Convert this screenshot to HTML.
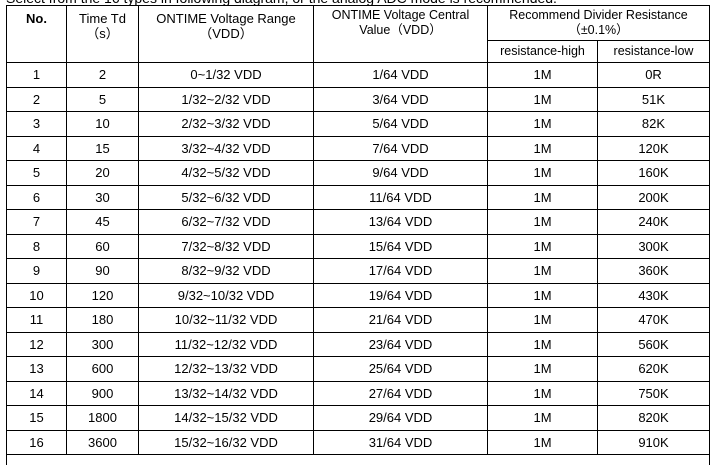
<!DOCTYPE html>
<html><head><meta charset="utf-8"><style>
body{margin:0;width:712px;height:465px;background:#fff;overflow:hidden;position:relative;font-family:"Liberation Sans","Noto Sans CJK SC",sans-serif;font-size:13px;color:#000}
table{position:absolute;left:6px;top:5px;border-collapse:collapse;table-layout:fixed}
td,th{border:1px solid #000;text-align:center;padding:0;font-weight:normal;height:23.5px;line-height:15px}
th{font-size:13px}
.cut{position:absolute;left:6px;top:-10px;font-size:14px;white-space:nowrap}
.lv{position:absolute;left:6px;top:454px;width:1px;height:11px;background:#000}
.rv{position:absolute;left:709px;top:454px;width:1px;height:11px;background:#000}
</style></head><body>
<div class="cut">Select from the 16 types in following diagram, or the analog ADC mode is recommended.</div>
<table>
<colgroup><col style="width:60px"><col style="width:72px"><col style="width:175px"><col style="width:174px"><col style="width:110px"><col style="width:112px"></colgroup>
<tr style="height:35px"><th rowspan="2" style="vertical-align:top;padding-top:5px;font-weight:bold">No.</th>
<th rowspan="2" style="vertical-align:top;padding-top:5px">Time Td<br>（s）</th>
<th rowspan="2" style="vertical-align:top;padding-top:5px">ONTIME Voltage Range<br>（VDD）</th>
<th rowspan="2" style="vertical-align:top;padding-top:2px;font-size:12.5px">ONTIME Voltage Central<br>Value（VDD）</th>
<th colspan="2" style="font-size:12.5px">Recommend Divider Resistance<br>（±0.1%）</th></tr>
<tr style="height:21px"><th style="height:21px;font-size:12.5px">resistance-high</th><th style="height:21px;font-size:12.5px">resistance-low</th></tr>
<tbody id="rows"></tbody>
</table>
<div class="lv"></div><div class="rv"></div>
<script>
const times=[2,5,10,15,20,30,45,60,90,120,180,300,600,900,1800,3600];
const lows=["0R","51K","82K","120K","160K","200K","240K","300K","360K","430K","470K","560K","620K","750K","820K","910K"];
const tb=document.getElementById('rows');
times.forEach((t,i)=>{
 const tr=document.createElement('tr');
 
 
 const cells=[i+1,t,i+"/32~"+(i+1)+"/32 VDD",(2*i+1)+"/64 VDD","1M",lows[i]];
 if(i===0)cells[2]="0~1/32 VDD";
 cells.forEach(c=>{const td=document.createElement('td');td.textContent=c;
 
 
 tr.appendChild(td);});
 tb.appendChild(tr);
});
</script>
</body></html>
